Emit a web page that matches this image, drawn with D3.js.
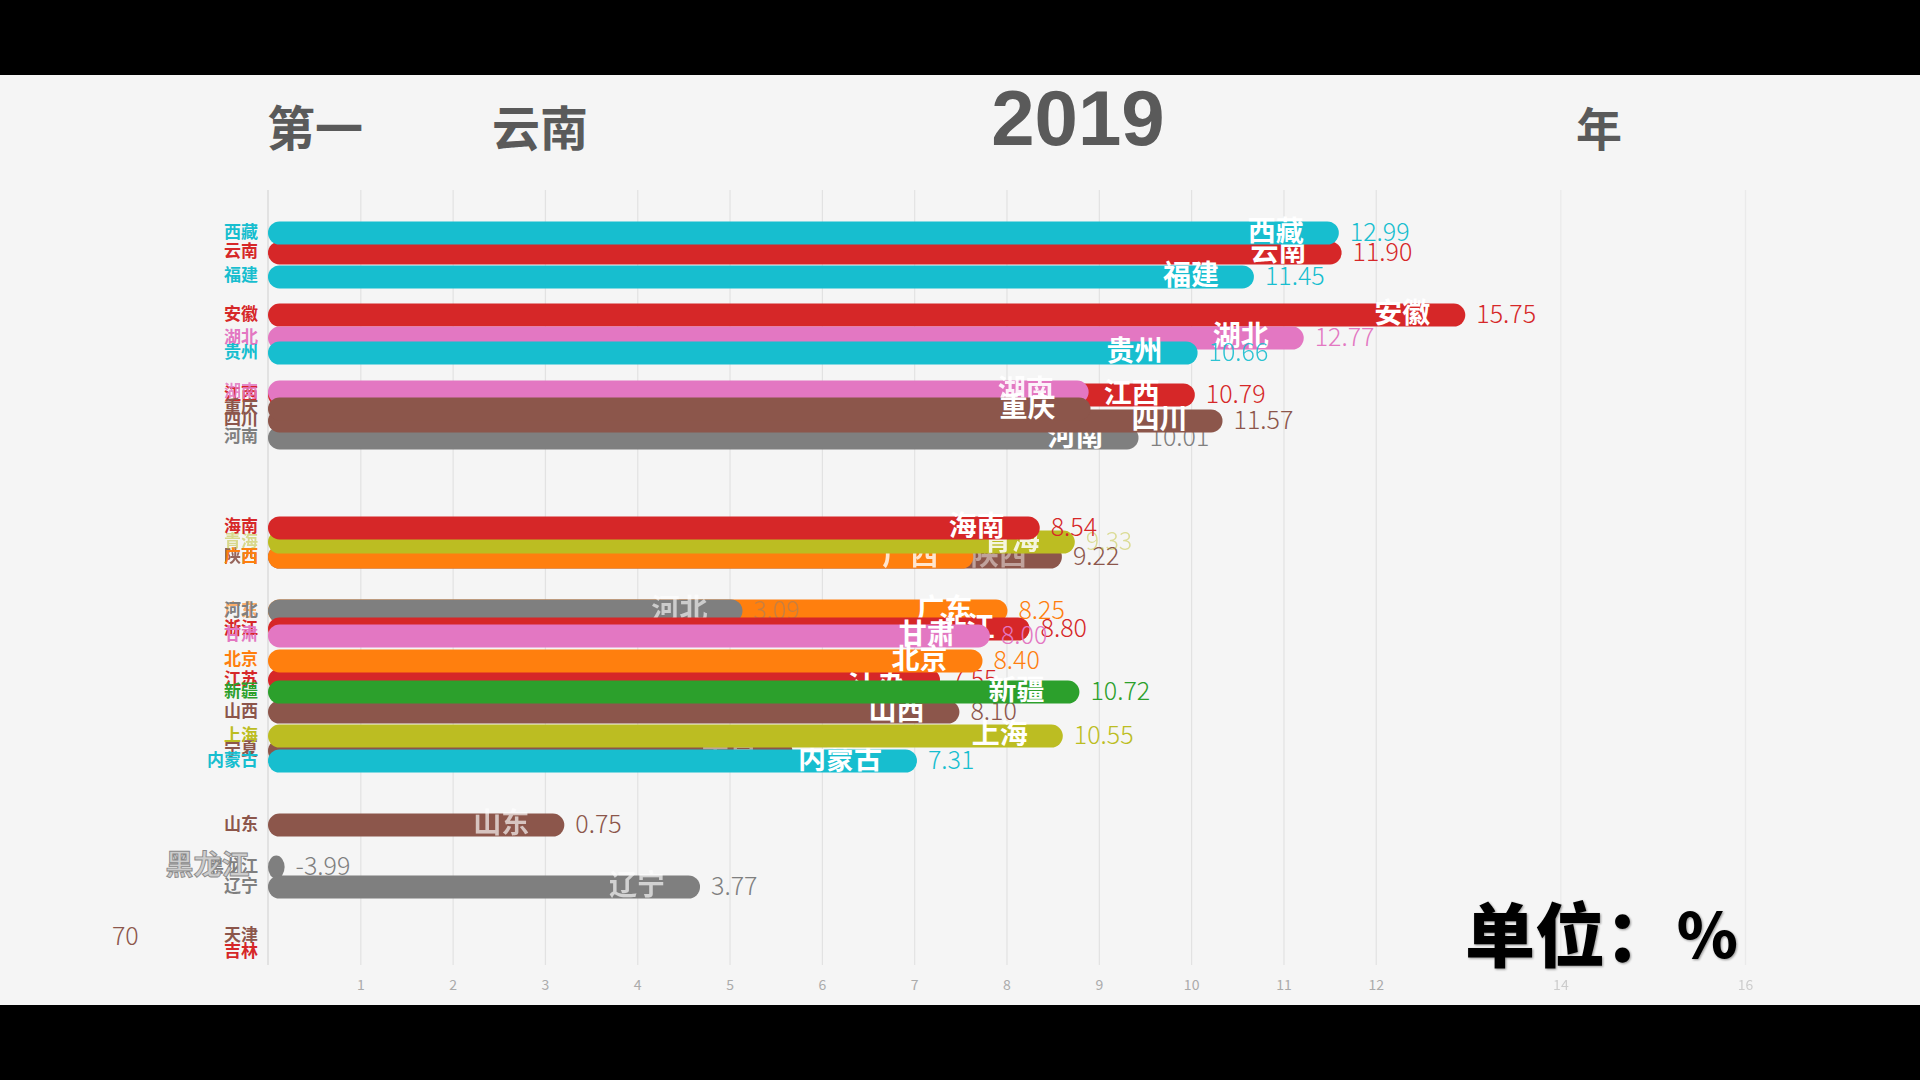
<!DOCTYPE html>
<html><head><meta charset="utf-8">
<script src="https://cdn.jsdelivr.net/npm/d3@7"></script>
<style>
html,body{margin:0;padding:0;background:#000;}
svg{display:block;}
</style></head>
<body>
<svg id="chart" width="1920" height="1080"></svg>
<script>
// ---- data (draw order) ----
const provinces = ["云南","西藏","福建","安徽","湖北","贵州","江西","湖南","河南","四川","重庆",
  "陕西","广西","青海","海南","广东","河北","浙江","甘肃","江苏","北京","山西","新疆",
  "宁夏","内蒙古","上海","山东","黑龙江","辽宁","天津","吉林"];
const barValues = [11.63,11.60,10.68,12.97,11.22,10.07,10.04,8.89,9.43,10.34,8.91,
  8.60,7.64,8.74,8.36,8.01,5.14,8.25,7.82,7.28,7.74,7.49,8.79,
  5.68,7.03,8.61,3.21,0.18,4.68,-1.81,-1.90];
const ranks = [1.83,1.00,2.83,4.42,5.38,6.00,7.75,7.63,9.54,8.83,8.33,
  14.50,14.50,13.88,13.29,16.75,16.75,17.50,17.79,19.63,18.83,20.96,20.13,
  22.58,23.00,21.96,25.67,27.42,28.25,30.33,30.96];
const valueTexts = ["11.90","12.99","11.45","15.75","12.77","10.66","10.79","","10.01","11.57","",
  "9.22","","9.33","8.54","8.25","3.09","8.80","8.00","7.55","8.40","8.10","10.72",
  "","7.31","10.55","0.75","-3.99","3.77","70",""];
const tickValues = [1,2,3,4,5,6,7,8,9,10,11,12,14,16];
const titleRank = "第一";
const titleLeader = "云南";
const titleYear = "2019";
const titleSuffix = "年";
const unitLabel = "单位：";
const unitSymbol = "%";

// ---- styles ----
const C = {cyan:"#17becf", red:"#d62728", pink:"#e377c2", brown:"#8c564b", gray:"#7f7f7f",
  olive:"#bcbd22", orange:"#ff7f0e", green:"#2ca02c"};
const colorOf = {
  "云南":C.red,"西藏":C.cyan,"福建":C.cyan,"安徽":C.red,"湖北":C.pink,"贵州":C.cyan,"江西":C.red,
  "湖南":C.pink,"河南":C.gray,"四川":C.brown,"重庆":C.brown,"陕西":C.brown,"广西":C.orange,
  "青海":C.olive,"海南":C.red,"广东":C.orange,"河北":C.gray,"浙江":C.red,"甘肃":C.pink,
  "江苏":C.red,"北京":C.orange,"山西":C.brown,"新疆":C.green,"宁夏":C.brown,"内蒙古":C.cyan,
  "上海":C.olive,"山东":C.brown,"黑龙江":C.gray,"辽宁":C.gray,"天津":C.brown,"吉林":C.red};
const innerAlpha = {"河北":0.6,"山东":0.65,"辽宁":0.65,"宁夏":0.45,"陕西":0.45,"广西":0.8,"青海":0.85,"湖南":0.9};
const innerFill = {"黑龙江":"#cdcdcd"};
const innerStroke = {"黑龙江":"#8a8a8a"};
const valueAlpha = {"青海":0.45,"河北":0.45,"贵州":0.9};
const leftAlpha = {"青海":0.5,"湖南":0.85,"广东":0.6,"陕西":0.9};

const svg = d3.select("#chart");
svg.append("rect").attr("x",0).attr("y",0).attr("width",1920).attr("height",1080).attr("fill","#000");
svg.append("rect").attr("x",0).attr("y",75).attr("width",1920).attr("height",930).attr("fill","#f5f5f5");

const x = d3.scaleLinear().domain([0,16]).range([268,1745]);
const y = d3.scaleLinear().domain([1,31]).range([233,953]);
const barH = 23;
const gridTop = 190, gridBottom = 965;

// axis + grid
const ax = svg.append("g").attr("transform",`translate(0,${gridBottom})`)
  .call(d3.axisBottom(x).tickValues(tickValues).tickSize(-(gridBottom-gridTop)).tickPadding(15).tickFormat(d3.format("d")));
ax.select(".domain").remove();
ax.selectAll(".tick line").attr("stroke","#e2e2e2").attr("stroke-width",1.2)
  .attr("opacity", d => d > 12 ? 0.6 : 1);
ax.selectAll(".tick text").attr("fill","#ababab").attr("font-size",14)
  .attr("font-family","'Noto Sans CJK SC','Noto Sans',sans-serif")
  .attr("opacity", d => d > 12 ? 0.55 : 1);
svg.append("line").attr("x1",x(0)).attr("x2",x(0)).attr("y1",gridTop).attr("y2",gridBottom)
  .attr("stroke","#d6d6d6").attr("stroke-width",1.2);

// rows
const rows = provinces.map((p,i)=>({name:p, value:barValues[i], rank:ranks[i], text:valueTexts[i]}));
const FONT = "'Noto Sans CJK SC','Noto Sans',sans-serif";
const rowG = svg.append("g").selectAll("g.row").data(rows).join("g").attr("class","row");

rowG.append("text")
  .attr("x",258).attr("y",d=>y(d.rank)-3).attr("text-anchor","end").attr("dominant-baseline","central")
  .attr("font-family",FONT).attr("font-weight",700).attr("font-size",17)
  .attr("fill",d=>colorOf[d.name]).attr("opacity",d=>leftAlpha[d.name] ?? 1)
  .text(d=>d.name);

const pos = rowG.filter(d=>d.value>0);
pos.append("rect")
  .attr("x",x(0)).attr("y",d=>y(d.rank)-barH/2)
  .attr("width",d=>x(d.value)-x(0)).attr("height",barH)
  .attr("rx",barH/2).attr("ry",barH/2)
  .attr("fill",d=>colorOf[d.name]);

pos.append("text")
  .attr("x",d=>x(d.value)-35).attr("y",d=>y(d.rank)-4).attr("text-anchor","end").attr("dominant-baseline","central")
  .attr("font-family",FONT).attr("font-weight",700).attr("font-size",28)
  .attr("fill",d=>innerFill[d.name] ?? "#fff")
  .attr("stroke",d=>innerStroke[d.name] ?? "none").attr("stroke-width",0.9)
  .attr("opacity",d=>innerAlpha[d.name] ?? 1)
  .text(d=>d.name);

rowG.filter(d=>d.text).append("text")
  .attr("x",d=>x(d.value)+11).attr("y",d=>y(d.rank)-3).attr("dominant-baseline","central")
  .attr("font-family",FONT).attr("font-weight",300).attr("font-size",25)
  .attr("fill",d=>colorOf[d.name]).attr("opacity",d=>valueAlpha[d.name] ?? 1)
  .text(d=>d.text);

// titles
const titleColor = "#5a5a5a";
svg.append("text").attr("x",267).attr("y",125).attr("dominant-baseline","central")
  .attr("font-family",FONT).attr("font-weight",700).attr("font-size",48).attr("fill",titleColor).text(titleRank);
svg.append("text").attr("x",492).attr("y",125).attr("dominant-baseline","central")
  .attr("font-family",FONT).attr("font-weight",700).attr("font-size",48).attr("fill",titleColor).text(titleLeader);
svg.append("text").attr("x",1078).attr("y",145).attr("text-anchor","middle")
  .attr("font-family","'Liberation Sans',Arial,sans-serif").attr("font-weight",700).attr("font-size",78)
  .attr("fill",titleColor).text(titleYear);
svg.append("text").attr("x",1576).attr("y",126).attr("dominant-baseline","central")
  .attr("font-family",FONT).attr("font-weight",700).attr("font-size",46).attr("fill",titleColor).text(titleSuffix);

const unitG = svg.append("g").style("filter","drop-shadow(1px 1px 1px rgba(0,0,0,0.4))");
unitG.append("text").attr("x",1465).attr("y",931).attr("dominant-baseline","central")
  .attr("font-family",FONT).attr("font-weight",900).attr("font-size",70).attr("fill","#000")
  .text(unitLabel);
unitG.append("text").attr("x",1738).attr("y",931).attr("text-anchor","end").attr("dominant-baseline","central")
  .attr("font-family",FONT).attr("font-weight",900).attr("font-size",62).attr("fill","#000")
  .text(unitSymbol);
</script>
</body></html>
